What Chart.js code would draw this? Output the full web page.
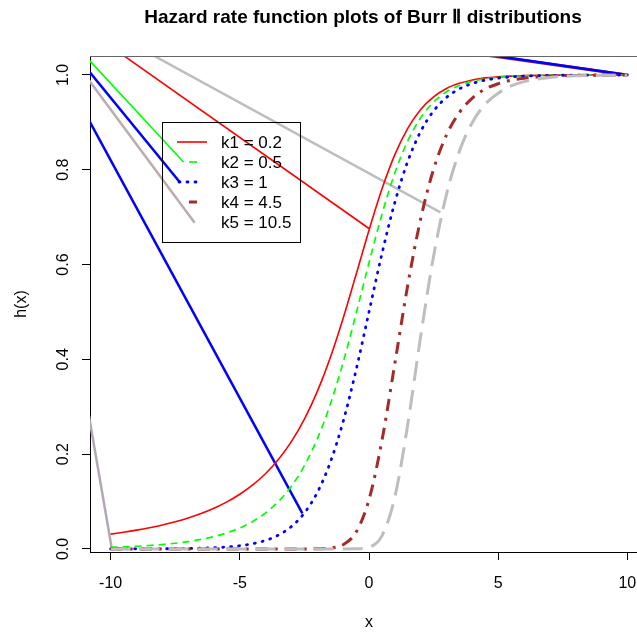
<!DOCTYPE html>
<html>
<head>
<meta charset="utf-8">
<title>Hazard rate function plots of Burr II distributions</title>
<script src="https://cdn.jsdelivr.net/npm/chart.js@4.4.0/dist/chart.umd.min.js"></script>
<style>
  html, body { margin: 0; padding: 0; overflow: hidden; background: #fff; }
  canvas { display: block; }
</style>
</head>
<body>
<canvas id="hazard" width="726" height="632"></canvas>
<script>
// x grid shared by all five curves
const xGrid = [-10, -9.5, -9, -8.5, -8, -7.5, -7, -6.5, -6, -5.5, -5, -4.5, -4, -3.5, -3, -2.5, -2, -1.5, -1, -0.5,
  0, 0.5, 1, 1.5, 2, 2.5, 3, 3.5, 4, 4.5, 5, 5.5, 6, 6.5, 7, 7.5, 8, 8.5, 9, 9.5, 10];

const k1Values = [0.0313, 0.0352, 0.0396, 0.0447, 0.0506, 0.0574, 0.0654, 0.0748, 0.0859, 0.0993, 0.1154, 0.1350,
  0.1592, 0.1893, 0.2269, 0.2739, 0.3323, 0.4034, 0.4867, 0.5788, 0.6725, 0.7592, 0.8319, 0.8875, 0.9272, 0.9540,
  0.9715, 0.9823, 0.9894, 0.9938, 0.9960, 0.9976, 0.9985, 0.9991, 0.9995, 0.9997, 0.9998, 0.9999, 0.9999, 1.0, 1.0];
const k2Values = [0.0034, 0.0044, 0.0056, 0.0072, 0.0093, 0.0120, 0.0155, 0.0201, 0.0261, 0.0339, 0.0443, 0.0579,
  0.0761, 0.1003, 0.1326, 0.1757, 0.2322, 0.3048, 0.3938, 0.4960, 0.6036, 0.7057, 0.7931, 0.8609, 0.9096, 0.9428,
  0.9644, 0.9779, 0.9867, 0.9917, 0.9950, 0.9969, 0.9981, 0.9989, 0.9993, 0.9996, 0.9998, 0.9998, 0.9999, 0.9999, 1.0];
const k3Values = [0.0000, 0.0001, 0.0001, 0.0002, 0.0003, 0.0006, 0.0009, 0.0015, 0.0025, 0.0041, 0.0067, 0.0110,
  0.0180, 0.0293, 0.0474, 0.0759, 0.1192, 0.1824, 0.2689, 0.3775, 0.5000, 0.6225, 0.7311, 0.8176, 0.8808, 0.9241,
  0.9526, 0.9707, 0.9820, 0.9890, 0.9933, 0.9959, 0.9975, 0.9985, 0.9991, 0.9994, 0.9997, 0.9998, 0.9999, 0.9999, 1.0];
const k4Values = [0, 0, 0, 0, 0, 0, 0, 0, 0, 0, 0, 0,
  0, 0, 0, 0.0000, 0.0003, 0.0017, 0.0090, 0.0354, 0.1040, 0.2283, 0.3911, 0.5565, 0.6963, 0.8010,
  0.8733, 0.9208, 0.9513, 0.9703, 0.9815, 0.9888, 0.9932, 0.9959, 0.9975, 0.9985, 0.9991, 0.9994, 0.9997, 0.9998, 0.9999];
const k5Values = [0, 0, 0, 0, 0, 0, 0, 0, 0, 0, 0, 0,
  0, 0, 0, 0, 0, 0, 0, 0.0002, 0.0036, 0.0275, 0.1094, 0.2628, 0.4484, 0.6177,
  0.7482, 0.8393, 0.8997, 0.9383, 0.9616, 0.9768, 0.9859, 0.9913, 0.9948, 0.9968, 0.9981, 0.9988, 0.9993, 0.9996, 0.9997];

const kLabels = ['k1 = 0.2', 'k2 = 0.5', 'k3 = 1', 'k4 = 4.5', 'k5 = 10.5'];
const xTicks = [-10, -5, 0, 5, 10];
const yTicks = [0, 0.2, 0.4, 0.6, 0.8, 1.0];
const chartTitle = 'Hazard rate function plots of Burr \u2161 distributions';

// straight stray segments, most of them leave the plot region
const strayRedX = [0, -12];
const strayRedY = [0.676, 1.137];
const strayGreenX = [-12, -7.18];
const strayGreenY = [1.100, 0.8165];
const strayBlueAX = [-12, -7.33];
const strayBlueAY = [1.085, 0.774];
const strayBlueBX = [-12, -2.58];
const strayBlueBY = [1.021, 0.075];
const strayBlueCX = [0, 10];
const strayBlueCY = [1.079, 1.0];
const strayBrownX = [0, 10];
const strayBrownY = [1.0765, 1.0];
const strayGreyAX = [-12, 2.766];
const strayGreyAY = [1.150, 0.710];
const strayGreyBX = [-12, -6.75];
const strayGreyBY = [1.074, 0.688];
const strayGreyCX = [-12, -9.96];
const strayGreyCY = [0.648, 0.002];

const FONT = '"Liberation Sans", Arial, Helvetica, sans-serif';
Chart.defaults.font.family = FONT;
Chart.defaults.color = '#000';

function pts(xs, ys) {
  return xs.map((x, i) => ({x: x, y: ys[i]}));
}

const curveStyles = [
  {color: '#FF0000', width: 1.6, dash: [], cap: 'butt'},
  {color: '#00FF00', width: 1.7, dash: [7, 5], cap: 'butt'},
  {color: '#0000FF', width: 2.8, dash: [1, 7], cap: 'round'},
  {color: '#A52A2A', width: 3, dash: [12, 7, 3, 7], cap: 'butt'},
  {color: '#BEBEBE', width: 3, dash: [20, 9], cap: 'butt'}
];
const curveValues = [k1Values, k2Values, k3Values, k4Values, k5Values];

// legend sample strokes (pixel spans inside the legend box)
const legendSamples = [
  {from: 177, to: 207, dash: null},
  {from: 189, to: 197, dash: []},
  {from: 179, to: 201, dash: null},
  {from: 189, to: 197, dash: []},
  {from: 0, to: 0, dash: null}
];

let datasets = [];

function stray(xs, ys, color, width) {
  return {
    data: pts(xs, ys),
    borderColor: color,
    borderWidth: width,
    pointRadius: 0,
    fill: false,
    order: 10
  };
}

datasets.push(stray(strayRedX, strayRedY, '#FF0000', 1.6));
datasets.push(stray(strayGreenX, strayGreenY, '#00FF00', 1.6));
datasets.push(stray(strayBlueAX, strayBlueAY, '#0000FF', 2.5));
datasets.push(stray(strayBlueBX, strayBlueBY, '#0000FF', 2.5));
datasets.push(stray(strayBlueCX, strayBlueCY, '#0000FF', 2.5));
datasets.push(stray(strayBrownX, strayBrownY, '#A52A2A', 3));
datasets.push(stray(strayGreyAX, strayGreyAY, '#BEBEBE', 2.5));
datasets.push(stray(strayGreyBX, strayGreyBY, 'rgb(188,172,172)', 2.5));
datasets.push(stray(strayGreyCX, strayGreyCY, 'rgb(178,168,180)', 2.5));

for (let i = 0; i < curveValues.length; i++) {
  let st = curveStyles[i];
  datasets.push({
    label: kLabels[i],
    data: pts(xGrid, curveValues[i]),
    borderColor: st.color,
    borderWidth: st.width,
    borderDash: st.dash,
    borderCapStyle: st.cap,
    cubicInterpolationMode: 'monotone',
    pointRadius: 0,
    fill: false,
    order: 5 - i
  });
}

const boxAndLegend = {
  id: 'boxAndLegend',
  afterDatasetsDraw(chart) {
    const ctx = chart.ctx;
    const area = chart.chartArea;
    ctx.save();
    // top side of the plot frame
    ctx.strokeStyle = '#666';
    ctx.lineWidth = 1;
    ctx.setLineDash([]);
    ctx.beginPath();
    ctx.moveTo(area.left, Math.round(area.top) + 0.5);
    ctx.lineTo(area.right, Math.round(area.top) + 0.5);
    ctx.stroke();

    // main title (centred on the visible page, not on the wider canvas)
    ctx.fillStyle = '#000';
    ctx.font = 'bold 19px ' + FONT;
    ctx.textAlign = 'center';
    ctx.textBaseline = 'middle';
    ctx.fillText(chartTitle, 363, 18);

    // legend
    const box = {left: 162, top: 122, right: 300, bottom: 242, textX: 221, rowY: 142, rowStep: 20};
    ctx.strokeStyle = '#000';
    ctx.strokeRect(box.left + 0.5, box.top + 0.5, box.right - box.left, box.bottom - box.top);
    ctx.font = '17px ' + FONT;
    ctx.textAlign = 'left';
    for (let i = 0; i < kLabels.length; i++) {
      const y = box.rowY + i * box.rowStep;
      const s = legendSamples[i];
      const st = curveStyles[i];
      if (s.to > s.from) {
        ctx.strokeStyle = st.color;
        ctx.lineWidth = st.width;
        ctx.setLineDash(s.dash || st.dash);
        ctx.lineCap = st.cap;
        ctx.beginPath();
        ctx.moveTo(s.from, y);
        ctx.lineTo(s.to, y);
        ctx.stroke();
      }
      ctx.setLineDash([]);
      ctx.fillText(kLabels[i], box.textX, y + 1.5);
    }
    ctx.restore();
  }
};

const axisGrid = {drawOnChartArea: false, drawTicks: true, tickLength: 8, color: '#000', lineWidth: 1};
const axisBorder = {display: true, color: '#000', width: 1};

new Chart(document.getElementById('hazard'), {
  type: 'line',
  data: {datasets: datasets},
  plugins: [boxAndLegend],
  options: {
    responsive: false,
    animation: false,
    devicePixelRatio: 1,
    events: [],
    layout: {padding: {left: 0, right: 78, top: 56, bottom: 0}},
    plugins: {
      legend: {display: false},
      tooltip: {enabled: false},
      title: {display: false}
    },
    scales: {
      x: {
        type: 'linear',
        min: -10.8,
        max: 10.8,
        afterBuildTicks: s => { s.ticks = xTicks.map(v => ({value: v})); },
        afterFit: s => { s.height = 80; },
        grid: axisGrid,
        border: axisBorder,
        ticks: {font: {size: 16}, padding: 14, minRotation: 0, maxRotation: 0, autoSkip: false,
          callback: v => String(v)},
        title: {display: true, text: 'x', font: {size: 16}, padding: {top: 0, bottom: 0}}
      },
      y: {
        type: 'linear',
        min: -0.0065,
        max: 1.04,
        afterBuildTicks: s => { s.ticks = yTicks.map(v => ({value: v})); },
        afterFit: s => { s.width = 90; },
        grid: axisGrid,
        border: axisBorder,
        ticks: {font: {size: 16}, padding: 7, minRotation: 90, maxRotation: 90, crossAlign: 'center',
          autoSkip: false, callback: v => v.toFixed(1)},
        title: {display: true, text: 'h(x)', font: {size: 16}, padding: {top: 12, bottom: 0}}
      }
    }
  }
});
</script>
</body>
</html>
